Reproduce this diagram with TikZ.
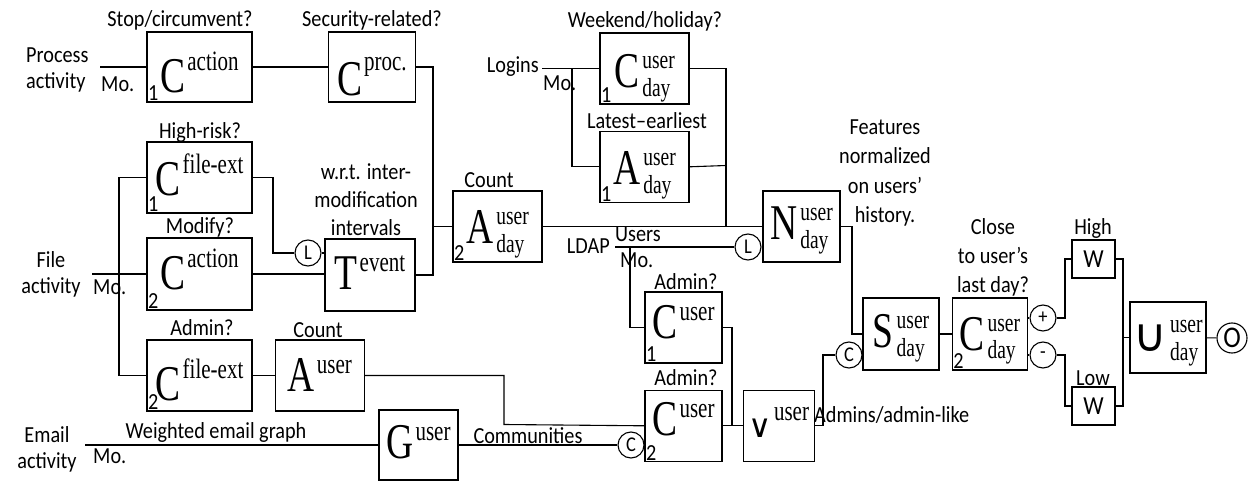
\documentclass[tikz,border=0pt]{standalone}
\usepackage{fontspec}
\setmainfont{Carlito}[FakeStretch=0.88]
\newfontfamily\rmsym{Liberation Serif}[FakeStretch=0.75]
\newfontfamily\opsym{DejaVu Sans}
\usetikzlibrary{positioning}

% letter with a raised index, and letter with index over subscript
\newcommand{\symsup}[3][22pt]{{\rmsym\fontsize{50}{50}\selectfont #2}\kern2pt\raisebox{#1}{\rmsym\fontsize{28}{28}\selectfont #3}}
\newcommand{\symdbl}[3]{{\rmsym\fontsize{50}{50}\selectfont #1}\kern3pt\raisebox{-9pt}{\rmsym\fontsize{26}{28}\selectfont\begin{tabular}[b]{@{}l@{}}#2\\#3\end{tabular}}}

\tikzset{
  blk/.style={rectangle, draw, line width=1.3pt, inner sep=0pt,
    minimum width=#1, minimum height=71pt, text height=51pt, text depth=20pt},
  blk/.default=89pt,
  wbox/.style={rectangle, draw, line width=1.3pt, inner sep=0pt,
    minimum width=43pt, minimum height=38pt, font=\fontsize{26}{26}\selectfont},
  port/.style={circle, draw, line width=1.1pt, inner sep=0pt,
    minimum size=26pt, font=\fontsize{21}{21}\selectfont},
  idx/.style={anchor=south west, inner sep=1.5pt, font=\fontsize{23}{23}\selectfont},
  txt/.style={inner sep=0pt, font=\fontsize{23}{26}\selectfont, align=center},
  wire/.style={line width=1.1pt}
}

\begin{document}
\begin{tikzpicture}[x=1pt, y=-1pt]
  \useasboundingbox (0,0) rectangle (1254,481);

  % --- Process activity ---
  \node[blk=105pt, minimum height=70pt, text height=61pt, text depth=9pt] (c1act)
    at (199.5,67) {\symsup{C}{action}};
  \node[blk=87pt, minimum height=70pt, text height=64pt, text depth=6pt,
    right=75pt of c1act] (cproc) {\symsup[25pt]{C}{proc.}};
  \node[idx] (c1act-i) at (c1act.south west) {1};

  % --- File activity ---
  \node[blk=105pt, text height=54pt, text depth=17pt] (c1ext) at (199.5,177.5)
    {\symsup{C}{file-ext}};
  \node[blk=105pt, minimum height=72pt, text height=52pt] (c2act) at (199.5,274)
    {\symsup{C}{action}};
  \node[blk=105pt, text height=60pt, text depth=11pt] (c2ext) at (199.5,375.5)
    {\symsup{C}{file-ext}};
  \node[idx] (c1ext-i) at (c1ext.south west) {1};
  \node[idx] (c2act-i) at (c2act.south west) {2};
  \node[idx] (c2ext-i) at (c2ext.south west) {2};
  \node[blk=90pt, minimum height=72pt, text height=51pt, text depth=21pt] (tev)
    at (370,275) {\symsup[18pt]{T}{event}};
  \node[blk, right=22pt of c2ext] (auser) {\symsup[18pt]{A}{user}};
  \node[port] (lc1) at (308,253) {L};

  % --- Email activity ---
  \node[blk=79pt, minimum height=70pt, text height=48pt, text depth=22pt] (guser)
    at (418.5,445) {\symsup[18pt]{G}{user}};
  \node[port] (cc1) at (631,445) {C};

  % --- Logins ---
  \node[blk, text height=55pt, text depth=16pt] (c1day) at (644.5,68.5)
    {\symdbl{C}{user}{day}};
  \node[blk, text height=53pt, text depth=18pt, below=26pt of c1day] (a1day)
    {\symdbl{A}{user}{day}};
  \node[blk, text height=53pt, text depth=18pt] (a2day) at (497.5,226.5)
    {\symdbl{A}{user}{day}};
  \node[idx] (c1day-i) at (c1day.south west) {1};
  \node[idx] (a1day-i) at (a1day.south west) {1};
  \node[idx] (a2day-i) at (a2day.south west) {2};
  \node[blk=77pt, text height=49pt, text depth=22pt] (nday) at (801.5,226.5)
    {\symdbl{N}{user}{day}};

  % --- LDAP users ---
  \node[port] (lc2) at (748,247) {L};
  \node[blk=77pt, text height=46pt, text depth=25pt] (c1usr) at (683.5,327.5)
    {\symsup[18pt]{C}{user}};
  \node[blk=77pt, text height=45pt, text depth=26pt, below=26pt of c1usr] (c2usr)
    {\symsup[18pt]{C}{user}};
  \node[idx] (c1usr-i) at (c1usr.south west) {1};
  \node[idx] (c2usr-i) at (c2usr.south west) {2};
  \node[blk=71pt, text height=47pt, text depth=24pt, right=20pt of c2usr] (vee)
    {\symsup[17pt]{\opsym\fontsize{32}{32}\selectfont ∨}{user}};
  \node[port] (cc2) at (849,355) {C};

  % --- Scoring ---
  \node[blk=76pt, minimum height=72pt, text height=50pt, text depth=22pt] (sday)
    at (901,334) {\symdbl{S}{user}{day}};
  \node[blk=75pt, minimum height=72pt, text height=52pt, text depth=20pt,
    right=12pt of sday] (c2day) {\symdbl{C}{user}{day}};
  \node[idx] (c2day-i) at (c2day.south west) {2};
  \node[port] (plus) at (1043,318) {+};
  \node[port] (minus) at (1043,355) {-};
  \node[wbox] (whigh) at (1093.5,259) {W};
  \node[wbox] (wlow) at (1093.5,406) {W};
  \node[blk=76pt, text height=50pt, text depth=21pt] (uday) at (1168,337.5)
    {\symdbl{\opsym\fontsize{46}{46}\selectfont ∪}{user}{day}};
  \node[port, minimum size=30pt, font=\fontsize{30}{30}\selectfont] (out)
    at (1232,338) {O};

  % --- Texts ---
  \node[txt, anchor=west, align=left] (tproc) at (26,70) {Process\\activity};
  \node[txt, anchor=west] (mproc) at (101,84) {Mo.};
  \node[txt] (tfile) at (51,274.5) {File\\activity};
  \node[txt, anchor=west] (mfile) at (93,287) {Mo.};
  \node[txt] (tmail) at (47,449) {Email\\activity};
  \node[txt, anchor=west] (mmail) at (93,456) {Mo.};
  \node[txt] (tgraph) at (216,432) {Weighted email graph};
  \node[txt, anchor=east] (tlogin) at (539,67) {Logins};
  \node[txt, anchor=west] (mlogin) at (543,83) {Mo.};
  \node[txt, anchor=east] (tldap) at (610,246) {LDAP};
  \node[txt, anchor=west] (tusers) at (615,234) {Users};
  \node[txt, anchor=west] (mldap) at (620,260) {Mo.};
  \node[txt] (tcomm) at (528,436) {Communities};
  \node[txt, anchor=west] (tadmins) at (814,415) {Admins/admin-like};
  \node[txt] (tstop) at (180,20) {Stop/circumvent?};
  \node[txt] (tsec) at (372,20) {Security-related?};
  \node[txt] (trisk) at (200,132) {High-risk?};
  \node[txt] (tmod) at (200,227) {Modify?};
  \node[txt] (tadm1) at (202,328) {Admin?};
  \node[txt] (tcnt1) at (318,330) {Count};
  \node[txt, font=\fontsize{23}{28}\selectfont] (twrt) at (366,200)
    {w.r.t. inter-\\modification\\intervals};
  \node[txt] (tcnt2) at (489,180) {Count};
  \node[txt] (tweek) at (645,21) {Weekend/holiday?};
  \node[txt] (tlate) at (647,121) {Latest–earliest};
  \node[txt] (tadm2) at (686,282) {Admin?};
  \node[txt] (tadm3) at (686,378) {Admin?};
  \node[txt, font=\fontsize{23}{29.5}\selectfont] (tfeat) at (885,173)
    {Features\\normalized\\on users'\\history.};
  \node[txt, font=\fontsize{23}{29}\selectfont] (tclose) at (993,257)
    {Close\\to user's\\last day?};
  \node[txt] (thigh) at (1093,228) {High};
  \node[txt] (tlow) at (1093,378) {Low};

  % --- Wires ---
  \coordinate (procin) at (100,67);
  \coordinate (filein) at (92,274);
  \coordinate (mailin) at (85,445);
  \coordinate (loginin) at (542,68.5);
  \coordinate (ldapin) at (615,247);
  \draw[wire] (procin) -- (c1act.west);
  \draw[wire] (c1act) -- (cproc);
  \draw[wire] (cproc.east) -| (433,226.5) |- (tev.east);
  \draw[wire] (433,226.5) -- (a2day.west);
  \draw[wire] (filein) -- (c2act.west);
  \draw[wire] (c1ext.west) -| (119,274) |- (c2ext.west);
  \draw[wire] (c1ext.east) -| (273,253) -- (lc1.west);
  \draw[wire] (lc1.east) -- (lc1.east -| tev.west);
  \draw[wire] (c2act.east) -- (c2act.east -| tev.west);
  \draw[wire] (c2ext) -- (auser);
  \draw[wire] (auser.east) -| (504,424.5) -- (c2usr.west);
  \draw[wire] (mailin) -- (guser.west);
  \draw[wire] (guser.east) -- (cc1.west);
  \draw[wire] (cc1.east) -- (cc1.east -| c2usr.west);
  % logins
  \draw[wire] (loginin) -- (c1day.west);
  \draw[wire] (572,68.5) |- (a1day.west);
  \draw[wire] (c1day.east) -| (726,226.5);
  \draw[wire] (a1day.east) -- (726,165.5);
  \draw[wire] (a2day) -- (nday);
  % ldap
  \draw[wire] (ldapin) -- (lc2.west);
  \draw[wire] (lc2.east) -- (lc2.east -| nday.west);
  \draw[wire] (630,247) |- (c1usr.west);
  \draw[wire] (c1usr.east) -| (732,424.5);
  \draw[wire] (c2usr) -- (vee);
  \draw[wire] (vee.east) -| (823,355) -- (cc2.west);
  \draw[wire] (cc2.east) -- (cc2.east -| sday.west);
  % scoring
  \draw[wire] (nday.east) -| (852,334) -- (sday.west);
  \draw[wire] (sday) -- (c2day);
  \draw[wire] (c2day.east |- plus) -- (plus);
  \draw[wire] (c2day.east |- minus) -- (minus);
  \draw[wire] (plus.east) -| (1065,259) -- (whigh.west);
  \draw[wire] (minus.east) -| (1065,406) -- (wlow.west);
  \draw[wire] (whigh.east) -| (1123,406) -- (wlow.east);
  \draw[wire] (1123,337.5) -- (uday.west);
  \draw[wire] (uday) -- (out);

\end{tikzpicture}
\end{document}
